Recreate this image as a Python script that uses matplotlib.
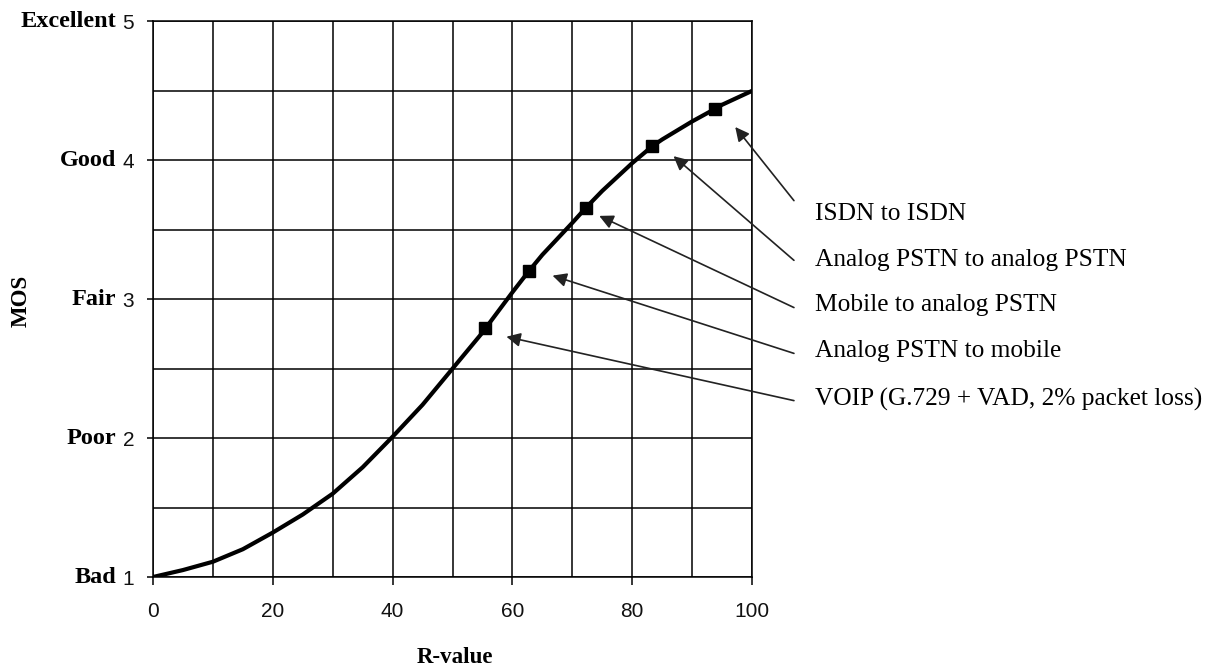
import matplotlib
matplotlib.use("Agg")
import matplotlib.pyplot as plt
from matplotlib.ticker import MultipleLocator
import matplotlib.transforms as mtransforms

# curve (R-value -> MOS)
r_curve = [0, 5, 10, 15, 20, 25, 30, 35, 40, 45, 50, 55, 55.5, 60, 62.7, 65,
           70, 72.3, 75, 80, 83.3, 85, 90, 93.8, 95, 100]
mos_curve = [1.0, 1.05, 1.11, 1.20, 1.32, 1.45, 1.60, 1.79, 2.01, 2.24, 2.50, 2.76,
             2.79, 3.05, 3.20, 3.32, 3.55, 3.66, 3.78, 3.98, 4.10, 4.15, 4.28, 4.37,
             4.40, 4.50]

# connection types marked on the curve
r_points = [55.5, 62.7, 72.3, 83.3, 93.8]
mos_points = [2.79, 3.20, 3.66, 4.10, 4.37]
point_labels = ["VOIP (G.729 + VAD, 2% packet loss)", "Analog PSTN to mobile",
                "Mobile to analog PSTN", "Analog PSTN to analog PSTN", "ISDN to ISDN"]
# arrow head / tail and label positions (data units)
head_r = [59.0, 66.7, 74.5, 86.9, 97.2]
head_mos = [2.73, 3.17, 3.60, 4.03, 4.24]
tail_r = [107.0, 107.0, 107.0, 107.0, 107.0]
tail_mos = [2.27, 2.61, 2.94, 3.28, 3.71]
text_mos = [2.28, 2.63, 2.96, 3.28, 3.61]

mos_ticks = [1, 2, 3, 4, 5]
mos_words = ["Bad", "Poor", "Fair", "Good", "Excellent"]
r_ticks = [0, 20, 40, 60, 80, 100]

serif = "Liberation Serif"
sans = "Liberation Sans"

fig = plt.figure(figsize=(12.21, 6.70), dpi=100)
ax = fig.add_axes([0.1253, 0.1388, 0.4906, 0.8292])

ax.plot(r_curve, mos_curve, color="black", lw=3.0, solid_capstyle="round",
        solid_joinstyle="round", zorder=3)
ax.plot(r_points, mos_points, ls="none", marker="s", ms=8.5, color="black", zorder=4)

ax.set_xlim(0, 100)
ax.set_ylim(1, 5)
ax.set_xticks(r_ticks)
ax.set_yticks(mos_ticks)
ax.xaxis.set_minor_locator(MultipleLocator(10))
ax.yaxis.set_minor_locator(MultipleLocator(0.5))
ax.grid(True, which="both", color="black", lw=1.1)
ax.set_axisbelow(True)
for s in ax.spines.values():
    s.set_linewidth(1.1)
ax.tick_params(which="minor", length=0)
ax.tick_params(axis="x", which="major", direction="out", length=6, width=1.1, pad=12)
ax.tick_params(axis="y", which="major", direction="out", length=4.5, width=1.1, pad=9)
for lab in ax.get_xticklabels() + ax.get_yticklabels():
    lab.set_fontfamily(sans)
    lab.set_fontsize(15)
    lab.set_color("#111111")

blend = mtransforms.blended_transform_factory(ax.transAxes, ax.transData)
for v, w in zip(mos_ticks, mos_words):
    ax.text(-0.062, v, w, transform=blend, ha="right", va="center",
            fontfamily=serif, fontweight="bold", fontsize=17.5)

for i in range(len(point_labels)):
    ax.annotate("", xy=(head_r[i], head_mos[i]), xytext=(tail_r[i], tail_mos[i]),
                annotation_clip=False,
                arrowprops=dict(arrowstyle="-|>", color="#222222", lw=1.2,
                                mutation_scale=21, shrinkA=0, shrinkB=0))
    ax.text(110.5, text_mos[i], point_labels[i], ha="left", va="center",
            fontfamily=serif, fontsize=18.3, clip_on=False)

fig.text(0.0175, 0.551, "MOS", rotation=90, ha="center", va="center",
         fontfamily=serif, fontweight="bold", fontsize=16.5)
fig.text(0.3727, 0.0194, "R-value", ha="center", va="center",
         fontfamily=serif, fontweight="bold", fontsize=16.5)

fig.savefig("out.png", dpi=100)
